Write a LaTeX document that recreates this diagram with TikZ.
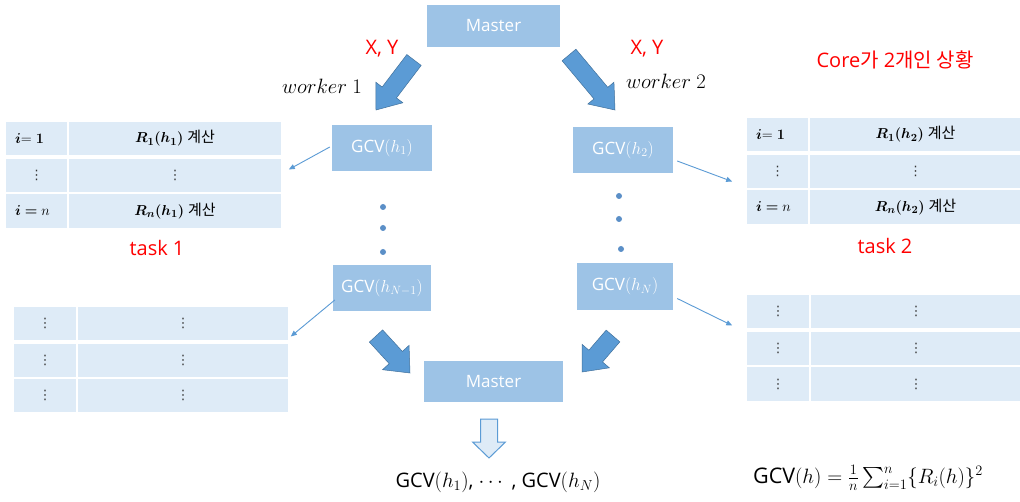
\documentclass[tikz,border=0pt]{standalone}
\usepackage{amsmath,bm}
\usepackage[no-math]{fontspec}
\setmainfont{Open Sans}
\newfontfamily\kr{Noto Sans CJK KR}
\newfontfamily\dejavufont{DejaVu Sans}
\usetikzlibrary{calc,arrows.meta}
\definecolor{boxblue}{HTML}{9DC3E6}
\definecolor{cellblue}{HTML}{DEEBF7}
\definecolor{arrblue}{HTML}{5B9BD5}
\definecolor{arrline}{HTML}{41719C}
\definecolor{dotblue}{HTML}{5B8FC7}
\definecolor{myred}{HTML}{FF0000}
\definecolor{dotgrey}{HTML}{333333}
\newcommand{\tcell}[7][]{\node[cell,minimum width={(#5-#3)*1pt},minimum height={(#6-#4)*1pt},#1] (#2) at ({(#3+#5)/2},{(#4+#6)/2}) {#7};}
\newcommand{\vd}{{\dejavufont\color{dotgrey}\fontsize{13}{15}\selectfont ⋮}}
\newcommand{\blockarr}[6]{%
  \path ($(#2)!#5!(#1)$) coordinate (hb);
  \filldraw[#6] ($(#1)!#3!90:(#2)$) -- ($(hb)!#3!90:(#2)$) -- ($(hb)!#4!90:(#2)$) -- (#2) -- ($(hb)!#4!-90:(#2)$) -- ($(hb)!#3!-90:(#2)$) -- ($(#1)!#3!-90:(#2)$) -- cycle;}
\tikzset{
  mbox/.style={fill=boxblue,draw=none,text=white,font=\fontsize{17}{20}\selectfont,inner sep=0pt},
  cell/.style={fill=cellblue,draw=white,line width=1.6pt,inner sep=0pt,font=\fontsize{15}{18}\selectfont},
  icell/.style={align=left,text width=43pt},
  bigarrow/.style={fill=arrblue,draw=arrline,line width=0.5pt,line join=miter},
  hollow/.style={fill=cellblue,draw=arrblue,line width=1pt,line join=miter},
  thin/.style={draw=arrblue,line width=0.9pt,-{Triangle[length=6pt,width=5pt]}},
  redtxt/.style={text=myred,font=\fontsize{20}{24}\selectfont,inner sep=0pt},
  mtxt/.style={font=\fontsize{20}{24}\selectfont,inner sep=0pt},
  vdot/.style={fill=dotblue,draw=none,circle,minimum size=6pt,inner sep=0pt}
}
\begin{document}
\begin{tikzpicture}[x=1pt,y=-1pt]
\useasboundingbox[fill=white] (0,0) rectangle (1020,502);
% master nodes
\node[mbox,minimum width=133pt,minimum height=42pt] (m1) at (493.5,26) {Master};
\node[mbox,minimum width=139pt,minimum height=41pt] (m2) at (493.5,381.5) {Master};
% GCV boxes
\node[mbox,minimum width=100pt,minimum height=46pt] (g1) at (382,148) {GCV$(h_1)$};
\node[mbox,minimum width=100pt,minimum height=46pt] (g2) at (623,150) {GCV$(h_2)$};
\node[mbox,minimum width=98pt,minimum height=46pt] (g3) at (382,288) {GCV$(h_{N-1})$};
\node[mbox,minimum width=96pt,minimum height=47pt] (g4) at (625,286.5) {GCV$(h_N)$};
% dots
\node[vdot] (d1) at (383,207) {};
\node[vdot] (d2) at (383,228) {};
\node[vdot] (d3) at (383,252) {};
\node[vdot] (d4) at (619,196) {};
\node[vdot] (d5) at (619,219) {};
\node[vdot] (d6) at (621,249) {};
% block arrows
\coordinate (a1t) at (414,60); \coordinate (a1h) at (376,110);
\blockarr{a1t}{a1h}{9pt}{17pt}{22pt}{bigarrow}
\coordinate (a2t) at (569,55); \coordinate (a2h) at (615,110);
\blockarr{a2t}{a2h}{9pt}{17pt}{22pt}{bigarrow}
\coordinate (a3t) at (376,336); \coordinate (a3h) at (410,373);
\blockarr{a3t}{a3h}{9pt}{18pt}{21pt}{bigarrow}
\coordinate (a4t) at (613,336); \coordinate (a4h) at (582,372);
\blockarr{a4t}{a4h}{9pt}{18pt}{21pt}{bigarrow}
\coordinate (a5t) at (489,419); \coordinate (a5h) at (489,458);
\blockarr{a5t}{a5h}{8.5pt}{16.5pt}{16pt}{hollow}
% labels
\node[redtxt] (xy1) at (382,49) {X, Y};
\node[redtxt] (xy2) at (647,49) {X, Y};
\node[mtxt] (w1) at (322,86) {$worker\ 1$};
\node[mtxt] (w2) at (666,81) {$worker\ 2$};
\node[redtxt] (core) at (895,60) {Core{\kr 가} 2{\kr 개인 상황}};
\node[redtxt] (task1) at (157,248) {task 1};
\node[redtxt] (task2) at (885,246) {task 2};
% left table 1
\tcell[icell]{l1a}{5}{121}{68}{156}{$\bm{i}\mathbf{=1}$}
\tcell{l1b}{68}{121}{282}{156}{$\bm{R_1(h_1)}$ {\kr 계산}}
\tcell{l1c}{5}{158}{68}{193}{\vd}
\tcell{l1d}{68}{158}{282}{193}{\vd}
\tcell[icell]{l1e}{5}{193}{68}{229}{$\bm{i}\bm{=}n$}
\tcell{l1f}{68}{193}{282}{229}{$\bm{R_n(h_1)}$ {\kr 계산}}
% right table 1
\tcell[icell]{r1a}{746}{117}{809}{152}{$\bm{i}\mathbf{=1}$}
\tcell{r1b}{809}{117}{1022}{152}{$\bm{R_1(h_2)}$ {\kr 계산}}
\tcell{r1c}{746}{154}{809}{189}{\vd}
\tcell{r1d}{809}{154}{1022}{189}{\vd}
\tcell[icell]{r1e}{746}{189}{809}{225}{$\bm{i}\bm{=}n$}
\tcell{r1f}{809}{189}{1022}{225}{$\bm{R_n(h_2)}$ {\kr 계산}}
% left table 2
\tcell{l2a}{13}{306}{77}{341}{\vd}
\tcell{l2b}{77}{306}{289}{341}{\vd}
\tcell{l2c}{13}{343}{77}{378}{\vd}
\tcell{l2d}{77}{343}{289}{378}{\vd}
\tcell{l2e}{13}{378}{77}{413}{\vd}
\tcell{l2f}{77}{378}{289}{413}{\vd}
% right table 2
\tcell{r2a}{746}{294}{810}{329}{\vd}
\tcell{r2b}{810}{294}{1022}{329}{\vd}
\tcell{r2c}{746}{331}{810}{366}{\vd}
\tcell{r2d}{810}{331}{1022}{366}{\vd}
\tcell{r2e}{746}{366}{810}{402}{\vd}
\tcell{r2f}{810}{366}{1022}{402}{\vd}
% thin connectors
\draw[thin] ($(g1.west)+(-2,-1)$) -- ($(l1d.east)+(6,-6)$);
\draw[thin] ($(g2.east)+(4,11)$) -- ($(r1c.west)+(-13,10)$);
\draw[thin] ($(g3.west)+(2,12)$) -- ($(l2b.east)+(1,13)$);
\draw[thin] ($(g4.east)+(4,12)$) -- ($(r2a.west)+(-13,14)$);
% bottom texts
\node[mtxt] (res) at (498,482) {GCV$(h_1)$, $\cdots$ , GCV$(h_N)$};
\node[mtxt,font=\fontsize{21.5}{25}\selectfont] (form) at (868,478) {$\text{GCV}(h)=\textstyle\frac{1}{n}\sum_{i=1}^{n}\{R_i(h)\}^2$};
\end{tikzpicture}
\end{document}
